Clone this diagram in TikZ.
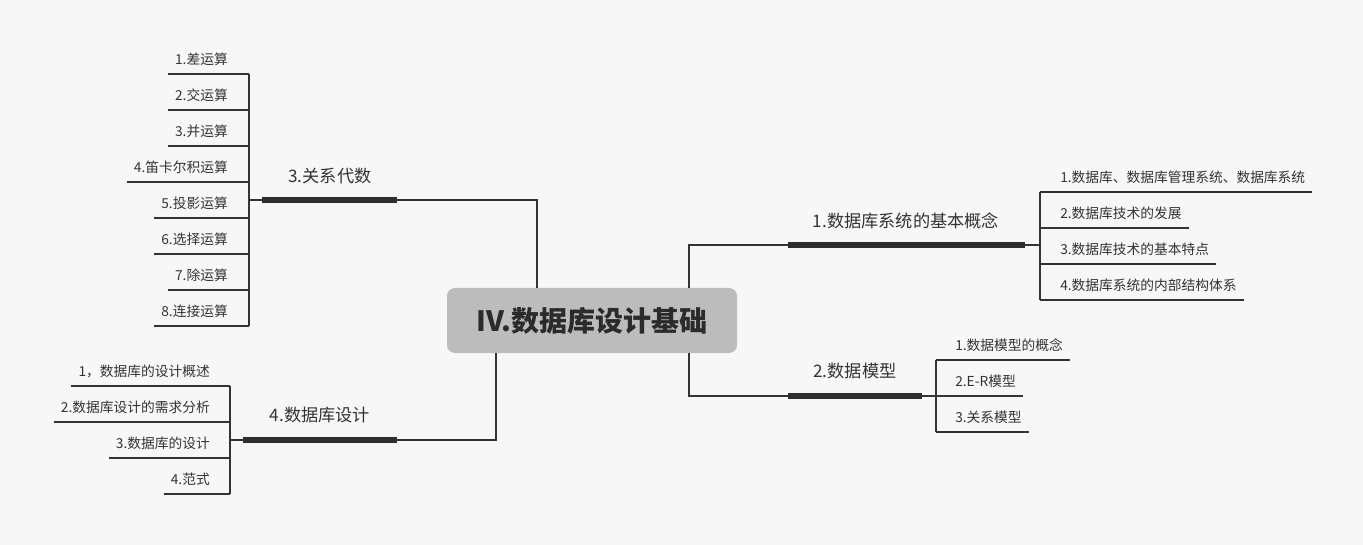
\documentclass[tikz,border=0pt]{standalone}
\usepackage{fontspec}
\setmainfont{Noto Sans CJK SC}
\usetikzlibrary{calc}
\definecolor{bgc}{HTML}{F7F7F7}
\definecolor{ink}{HTML}{333333}
\definecolor{boxc}{HTML}{BCBCBC}
\begin{document}
\begin{tikzpicture}[x=0.75pt,y=-0.75pt,
  conn/.style={draw=ink,line width=0.85pt},
  bar/.style={draw=ink!90!black,line width=4pt},
  central/.style={fill=boxc,rounded corners=6pt,minimum width=217.5pt,minimum height=48.75pt,
     font=\bfseries\fontsize{21}{24}\selectfont,text=ink!85!black,inner sep=0pt},
  branchlabel/.style={font=\fontsize{12.9}{15}\selectfont,text=ink,inner sep=0pt},
  leaf/.style={font=\fontsize{10.3}{12}\selectfont,text=ink,inner xsep=5.25pt,inner ysep=4.5pt,
     text height=7.5pt,text depth=2.25pt},
  leafL/.style={leaf,anchor=south east},
  leafR/.style={leaf,anchor=south west}]
\fill[bgc] (0,0) rectangle (1363,545);
\useasboundingbox (0,0) rectangle (1363,545);

% central
\node[central] (c) at (592,320.5) {IV.数据库设计基础};

% ---------- branch 1
\coordinate (b1l) at (788,245);
\coordinate (b1r) at (1025,245);
\node[branchlabel] (b1) at (906,221) {1.数据库系统的基本概念};
\draw[conn] ($(c.north)+(97,0)$) |- (b1l);
\draw[bar] (b1l) -- (b1r);
\coordinate (v1t) at (1040,192);
\coordinate (v1b) at (1040,300);
\draw[conn] (b1r) -- (b1r -| v1t);
\draw[conn] (v1t) -- (v1b);
\node[leafR] (l11) at (1053,192) {1.数据库、数据库管理系统、数据库系统};
\node[leafR] (l12) at (1053,228) {2.数据库技术的发展};
\node[leafR] (l13) at (1053,264) {3.数据库技术的基本特点};
\node[leafR] (l14) at (1053,300) {4.数据库系统的内部结构体系};
\foreach \n in {l11,l12,l13,l14}{\draw[conn] (\n.south west -| v1t) -- (\n.south east);}

% ---------- branch 2
\coordinate (b2l) at (788,396);
\coordinate (b2r) at (922,396);
\node[branchlabel] (b2) at (855,371) {2.数据模型};
\draw[conn] ($(c.south)+(97,0)$) |- (b2l);
\draw[bar] (b2l) -- (b2r);
\coordinate (v2t) at (936,360);
\coordinate (v2b) at (936,432);
\draw[conn] (b2r) -- (b2r -| v2t);
\draw[conn] (v2t) -- (v2b);
\node[leafR] (l21) at (948,360) {1.数据模型的概念};
\node[leafR] (l22) at (948,396) {2.E-R模型};
\node[leafR] (l23) at (948,432) {3.关系模型};
\foreach \n in {l21,l22,l23}{\draw[conn] (\n.south west -| v2t) -- (\n.south east);}

% ---------- branch 3
\coordinate (b3l) at (262,200);
\coordinate (b3r) at (397,200);
\node[branchlabel] (b3) at (330,176) {3.关系代数};
\draw[conn] ($(c.north)+(-55,0)$) |- (b3r);
\draw[bar] (b3l) -- (b3r);
\coordinate (v3t) at (249,74);
\coordinate (v3b) at (249,326);
\draw[conn] (b3l) -- (b3l -| v3t);
\draw[conn] (v3t) -- (v3b);
\node[leafL] (l31) at (235,74) {1.差运算};
\node[leafL] (l32) at (235,110) {2.交运算};
\node[leafL] (l33) at (235,146) {3.并运算};
\node[leafL] (l34) at (235,182) {4.笛卡尔积运算};
\node[leafL] (l35) at (235,218) {5.投影运算};
\node[leafL] (l36) at (235,254) {6.选择运算};
\node[leafL] (l37) at (235,290) {7.除运算};
\node[leafL] (l38) at (235,326) {8.连接运算};
\foreach \n in {l31,l32,l33,l34,l35,l36,l37,l38}{\draw[conn] (\n.south west) -- (\n.south east -| v3t);}

% ---------- branch 4
\coordinate (b4l) at (243,440);
\coordinate (b4r) at (397,440);
\node[branchlabel] (b4) at (320,415) {4.数据库设计};
\draw[conn] ($(c.south)+(-96,0)$) |- (b4r);
\draw[bar] (b4l) -- (b4r);
\coordinate (v4t) at (230,386);
\coordinate (v4b) at (230,494);
\draw[conn] (b4l) -- (b4l -| v4t);
\draw[conn] (v4t) -- (v4b);
\node[leafL] (l41) at (217,386) {1，数据库的设计概述};
\node[leafL] (l42) at (217,422) {2.数据库设计的需求分析};
\node[leafL] (l43) at (217,458) {3.数据库的设计};
\node[leafL] (l44) at (217,494) {4.范式};
\foreach \n in {l41,l42,l43,l44}{\draw[conn] (\n.south west) -- (\n.south east -| v4t);}
\end{tikzpicture}
\end{document}
